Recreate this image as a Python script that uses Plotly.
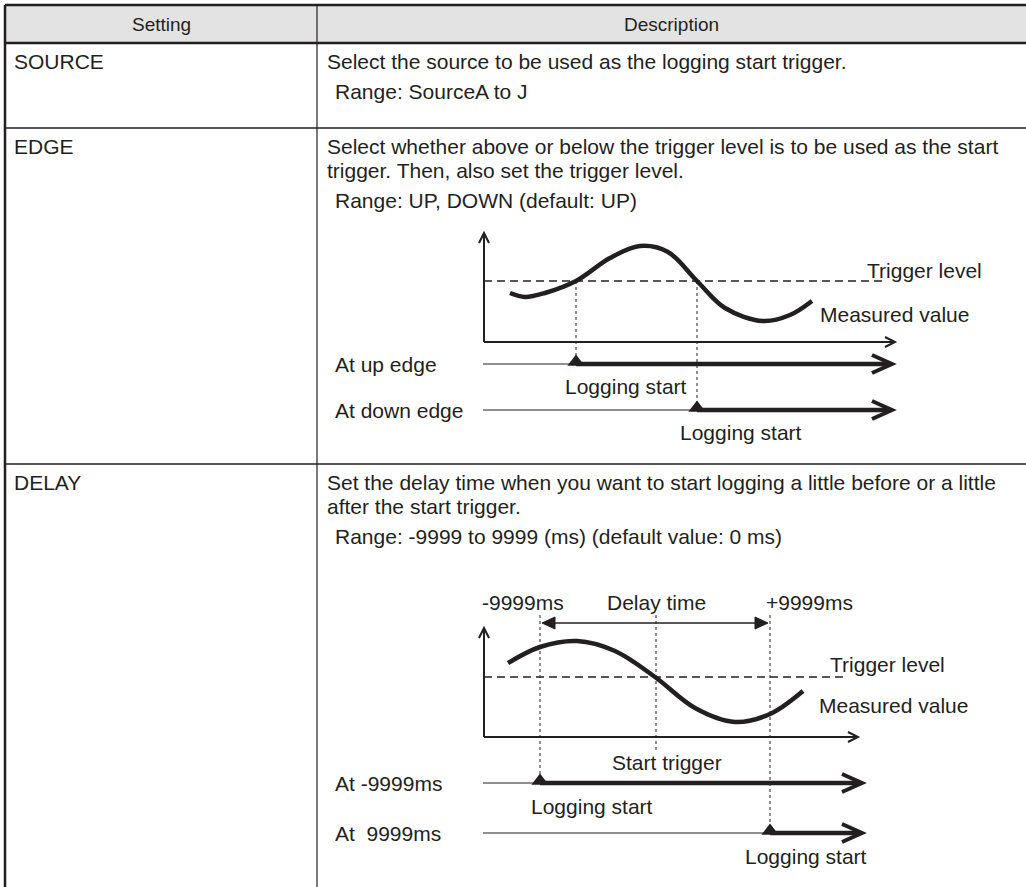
import plotly.graph_objects as go

W, H = 1026, 887
INK = "#231f20"
FONT = "Liberation Sans, Arial, sans-serif"
FS = 21      # table text
FS_HEAD = 19
FS_DIA = 21  # diagram labels

# ---- table content ----
header = ["Setting", "Description"]
settings = ["SOURCE", "EDGE", "DELAY"]
# each description: list of (text, is_range_line)
descriptions = [
    [("Select the source to be used as the logging start trigger.", False),
     ("Range: SourceA to J", True)],
    [("Select whether above or below the trigger level is to be used as the start", False),
     ("trigger. Then, also set the trigger level.", False),
     ("Range: UP, DOWN (default: UP)", True)],
    [("Set the delay time when you want to start logging a little before or a little", False),
     ("after the start trigger.", False),
     ("Range: -9999 to 9999 (ms) (default value: 0 ms)", True)],
]

# table grid (pixels)
col_x = [5, 317, 1026]
row_y = [5, 43, 128, 464, 887]
first_off = 18
wrap_gap = 24
para_gap = 30

# ---- EDGE diagram ----
edge_curve_x = [510, 525, 545, 576, 610, 640, 668, 697, 725, 763, 790, 812]
edge_curve_y = [293, 297, 293, 281, 258, 246, 252, 281, 308, 321, 315, 301]
edge_axis = dict(x0=484, top=233, base=342, right=895)
edge_level = 281
edge_rows = ["At up edge", "At down edge"]
edge_rows_y = [364, 410]
edge_start_x = [576, 697]
edge_start_label_x = [563, 678]
edge_arrow_end = 892

# ---- DELAY diagram ----
delay_curve_x = [508, 540, 577, 615, 655, 695, 735, 770, 803]
delay_curve_y = [663, 647, 641, 651, 677, 708, 722, 714, 691]
delay_axis = dict(x0=484, top=628, base=737, right=858)
delay_level = 677
delay_marks = ["-9999ms", "Delay time", "+9999ms"]
delay_marks_x = [540, 656, 770]
delay_marks_cx = [523, 656, 809]
delay_rows = ["At -9999ms", "At  9999ms"]
delay_rows_y = [783, 833]
delay_start_label_x = [529, 743]
delay_arrow_end = 862

fig = go.Figure()
shapes = []
ann = []


def text(x, y, s, anchor="left", size=FS):
    ann.append(dict(x=x, y=y, text=s.replace("  ", "&nbsp;&nbsp;"), showarrow=False,
                    xanchor=anchor, yanchor="middle",
                    font=dict(family=FONT, size=size, color=INK)))


def line(x0, y0, x1, y1, w=1.2, dash=None):
    shapes.append(dict(type="line", x0=x0, y0=y0, x1=x1, y1=y1,
                       line=dict(color=INK, width=w, dash=dash)))


def path(d, w=1.2, fill=None):
    shapes.append(dict(type="path", path=d, fillcolor=fill if fill else "rgba(0,0,0,0)",
                       line=dict(color=INK, width=w)))


def chevron_right(x, y, dx, dy, w):
    path(f"M{x-dx},{y-dy} L{x},{y} L{x-dx},{y+dy}", w)


def chevron_up(x, y, dx, dy, w):
    path(f"M{x-dy},{y+dx} L{x},{y} L{x+dy},{y+dx}", w)


# header band and grid
shapes.append(dict(type="rect", x0=col_x[0], x1=col_x[2], y0=row_y[0], y1=row_y[1],
                   fillcolor="#e3e3e3", line=dict(width=0), layer="below"))
line(col_x[0], row_y[0], col_x[2], row_y[0], 2.5)
line(col_x[0], row_y[1], col_x[2], row_y[1], 2.5)
for y in row_y[2:-1]:
    line(col_x[0], y, col_x[2], y, 1.4)
line(col_x[0], row_y[0], col_x[0], row_y[-1], 2.5)
line(col_x[1], row_y[0], col_x[1], row_y[-1], 1.2)

hy = (row_y[0] + row_y[1]) / 2
text((col_x[0] + col_x[1]) / 2, hy, header[0], "center", FS_HEAD)
text((col_x[1] + col_x[2]) / 2, hy, header[1], "center", FS_HEAD)

for i, name in enumerate(settings):
    y = row_y[i + 1] + first_off
    text(12, y, name)
    for k, (s, rng) in enumerate(descriptions[i]):
        if k:
            y += para_gap if rng else wrap_gap
        text(333 if rng else 325, y, s)


def draw_axes(ax):
    line(ax["x0"], ax["base"], ax["x0"], ax["top"], 2)
    line(ax["x0"], ax["base"], ax["right"], ax["base"], 2)
    chevron_up(ax["x0"], ax["top"], 10, 5, 2)
    chevron_right(ax["right"], ax["base"], 10, 5, 2)


def draw_log_row(label, y, xs, xend):
    text(333, y, label, size=FS_DIA)
    line(483, y, xs, y, 1.2)
    line(xs, y, xend - 2, y, 4.5)
    chevron_right(xend, y, 20, 9, 4)


# EDGE diagram
draw_axes(edge_axis)
line(edge_axis["x0"], edge_level, 885, edge_level, 1.5, "8px,5px")
fig.add_trace(go.Scatter(x=edge_curve_x, y=edge_curve_y, mode="lines",
                         line=dict(color=INK, width=4.5, shape="spline", smoothing=1.0)))
text(865, 270, "Trigger level", size=FS_DIA)
text(818, 314, "Measured value", size=FS_DIA)
for lab, y, xs, lx in zip(edge_rows, edge_rows_y, edge_start_x, edge_start_label_x):
    draw_log_row(lab, y, xs, edge_arrow_end)
    line(xs, edge_level, xs, y, 1, "3px,3px")
    text(lx, y + 22, "Logging start", size=FS_DIA)

# DELAY diagram
draw_axes(delay_axis)
line(delay_axis["x0"], delay_level, 847, delay_level, 1.5, "8px,5px")
fig.add_trace(go.Scatter(x=delay_curve_x, y=delay_curve_y, mode="lines",
                         line=dict(color=INK, width=4.5, shape="spline", smoothing=1.0)))
text(828, 664, "Trigger level", size=FS_DIA)
text(817, 705, "Measured value", size=FS_DIA)
for s, cx in zip(delay_marks, delay_marks_cx):
    text(cx, 602, s, "center", FS_DIA)
ya = 623
xl, xr = delay_marks_x[0], delay_marks_x[2]
line(xl + 12, ya, xr - 12, ya, 1.5)
path(f"M{xl+2},{ya} L{xl+15},{ya-6} L{xl+15},{ya+6} Z", 1, INK)
path(f"M{xr-2},{ya} L{xr-15},{ya-6} L{xr-15},{ya+6} Z", 1, INK)
line(xl, 615, xl, delay_rows_y[0], 1, "3px,3px")
line(delay_marks_x[1], 615, delay_marks_x[1], 752, 1, "3px,3px")
line(xr, 615, xr, delay_rows_y[1], 1, "3px,3px")
text(667, 762, "Start trigger", "center", FS_DIA)
for lab, y, xs, lx in zip(delay_rows, delay_rows_y, delay_marks_x[::2], delay_start_label_x):
    draw_log_row(lab, y, xs, delay_arrow_end)
    text(lx, y + 23, "Logging start", size=FS_DIA)

# start markers (triangles)
fig.add_trace(go.Scatter(
    x=edge_start_x + delay_marks_x[::2],
    y=[y - 2 for y in edge_rows_y + delay_rows_y],
    mode="markers",
    marker=dict(symbol="triangle-up", size=15, color=INK, line=dict(width=0)),
))

fig.update_layout(
    width=W, height=H, margin=dict(l=0, r=0, t=0, b=0),
    paper_bgcolor="white", plot_bgcolor="white", showlegend=False,
    xaxis=dict(range=[0, W], visible=False, fixedrange=True),
    yaxis=dict(range=[H, 0], visible=False, fixedrange=True),
    shapes=shapes, annotations=ann,
)
fig.write_html("out.html", config={"displayModeBar": False},
               post_script="document.body.style.margin='0px';document.body.style.overflow='hidden';")
